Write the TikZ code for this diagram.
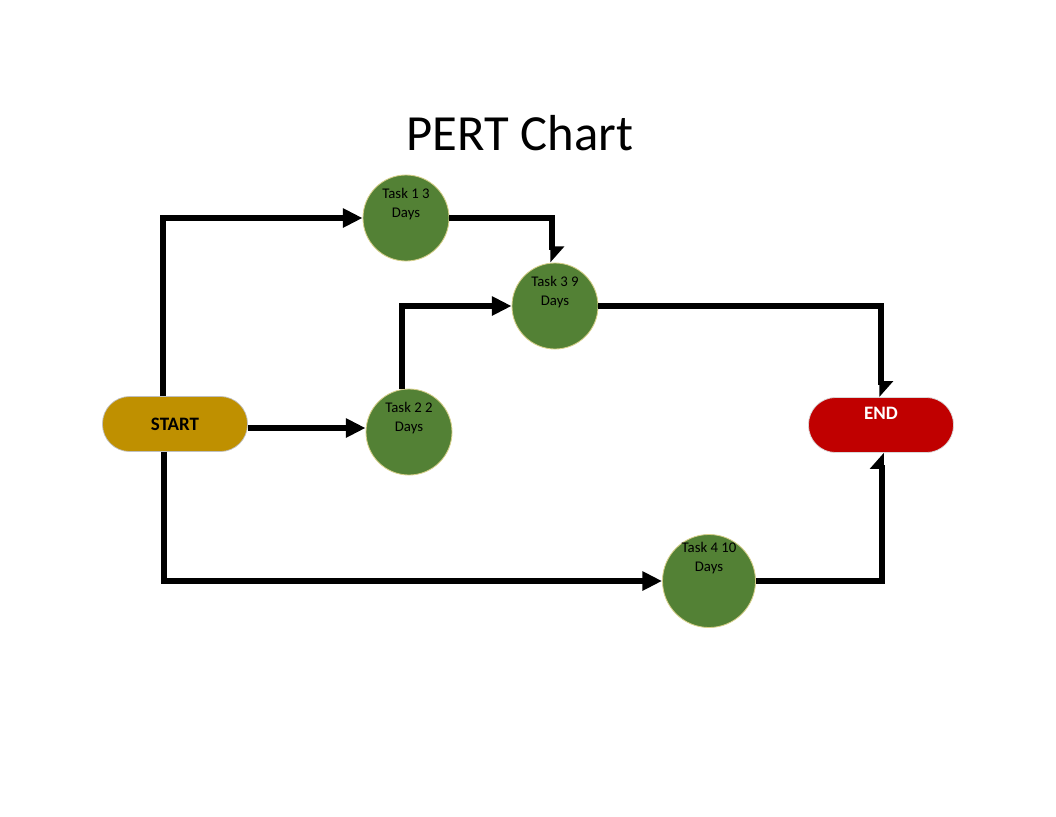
\documentclass[tikz,border=0pt]{standalone}
\usepackage{fontspec}
\setmainfont{Carlito}
\usetikzlibrary{arrows.meta,positioning}

\definecolor{taskgreen}{HTML}{538135}
\definecolor{taskrim}{HTML}{D6CF8A}
\definecolor{startgold}{HTML}{BF9000}
\definecolor{endred}{HTML}{C00000}

\begin{document}
\begin{tikzpicture}[x=0.025cm, y=-0.025cm,
    task/.style={circle, draw=taskrim, line width=0.6pt, fill=taskgreen, minimum size=2.15cm},
    tasktext/.style={anchor=north, yshift=-6pt, align=center, font=\fontsize{10.5}{13.5}\selectfont},
    pill/.style={rectangle, rounded corners=0.68cm, minimum width=3.625cm, minimum height=1.375cm},
    conn/.style={line width=4.2pt, -{Triangle[length=14pt,width=13pt]}},
    halfconn/.style={line width=4.2pt, -{Triangle[left,length=10pt,width=17pt]}}]
    \useasboundingbox (0,0) rectangle (1056,816);

    % Title
    \node[font=\fontsize{36}{40}\selectfont] (title) at (520,133) {PERT Chart};

    % Start and end
    \node[pill, draw=black!25, line width=0.5pt, fill=startgold, font=\bfseries\fontsize{13.5}{15}\selectfont] (start) at (175,424) {START};
    \node[pill, draw=black!15, line width=0.5pt, fill=endred,
          label={[font=\bfseries\fontsize{13.5}{15}\selectfont, text=white, yshift=8pt]center:END}] (end) at (881,425) {};

    % Tasks
    \node[task, label={[tasktext]north:Task 1 3\\Days}] (t1) at (406,218) {};
    \node[task, label={[tasktext]north:Task 2 2\\Days}] (t2) at (409,432) {};
    \node[task, label={[tasktext]north:Task 3 9\\Days}] (t3) at (555,306) {};
    \node[task, minimum size=2.325cm, label={[tasktext, yshift=4pt]north:Task 4 10\\Days}] (t4) at (709,581) {};

    % Arrows
    \draw[conn] (163,0 |- start.north) |- (t1);
    \draw[conn] (start.east |- 0,428) -- (t2.west |- 0,428);
    \draw[conn] (164,0 |- start.south) |- (t4);
    \draw[conn] (402,0 |- t2.north) |- (t3);
    \draw[halfconn] (t1) -| (552,0 |- t3.north);
    \draw[halfconn] (t3) -| (end);
    \draw[halfconn] (t4) -| (882,0 |- end.south);
\end{tikzpicture}
\end{document}
